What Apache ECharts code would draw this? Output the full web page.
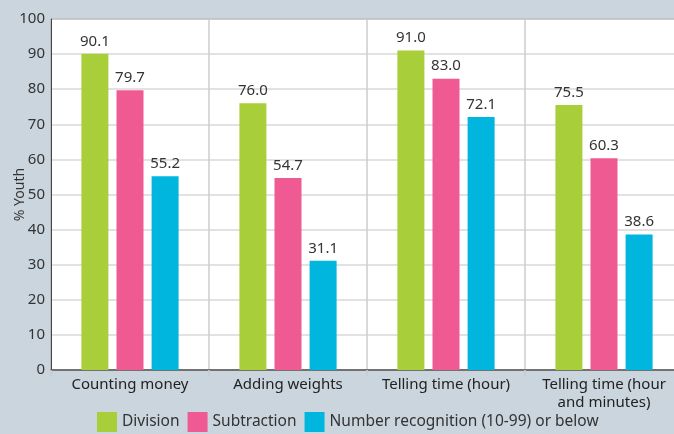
<!DOCTYPE html>
<html><head><meta charset="utf-8">
<script src="https://cdn.jsdelivr.net/npm/echarts@6/dist/echarts.min.js"></script>
<style>html,body{margin:0;padding:0;background:#cbd5de;}#c{width:674px;height:434px;}</style>
</head><body><div id="c"></div>
<script>
var categories = ['Counting money', 'Adding weights', 'Telling time (hour)', 'Telling time (hour\nand minutes)'];
var division = [90.1, 76.0, 91.0, 75.5];
var subtraction = [79.7, 54.7, 83.0, 60.3];
var numberRecognition = [55.2, 31.1, 72.1, 38.6];
var yTicks = [0, 10, 20, 30, 40, 50, 60, 70, 80, 90, 100];
var seriesNames = ['Division', 'Subtraction', 'Number recognition (10-99) or below'];
var colors = ['#a8ce3a', '#f05a93', '#00b6de'];

var font = 'Noto Sans';
var chart = echarts.init(document.getElementById('c'));
function mk(name, data, color) {
  return {
    name: name, type: 'bar', data: data, barWidth: 27, barGap: '30%',
    itemStyle: { color: color },
    label: { show: true, position: 'top', distance: 5, color: '#333', fontFamily: font, fontSize: 15,
      formatter: function (p) { return p.value.toFixed(1); } }
  };
}
chart.setOption({
  backgroundColor: '#cbd5de',
  textStyle: { fontFamily: font },
  color: colors,
  grid: { left: 51, top: 19, width: 632, height: 351, containLabel: false, outerBoundsMode: 'none',
    show: true, backgroundColor: '#fff', borderColor: '#444', borderWidth: 1 },
  legend: {
    left: 92, top: 407, itemWidth: 20, itemHeight: 20, itemGap: 8, icon: 'rect',
    textStyle: { fontFamily: font, fontSize: 15.5, color: '#333' },
    data: seriesNames
  },
  xAxis: {
    type: 'category', data: categories, boundaryGap: true,
    axisLine: { lineStyle: { color: '#555', width: 1.5 } },
    axisTick: { show: true, length: 6, lineStyle: { color: '#ccc', width: 1.5 } },
    splitLine: { show: true, lineStyle: { color: '#ccc', width: 1.5 } },
    axisLabel: { color: '#222', fontFamily: font, fontSize: 15, lineHeight: 18, margin: 6, interval: 0 }
  },
  yAxis: {
    type: 'value', min: yTicks[0], max: yTicks[yTicks.length - 1], interval: 10,
    name: '% Youth', nameLocation: 'middle', nameGap: 24, nameRotate: 90, nameMoveOverlap: false,
    nameTextStyle: { color: '#333', fontFamily: font, fontSize: 14 },
    axisLine: { show: true, lineStyle: { color: '#444', width: 1 } },
    axisTick: { show: false },
    splitLine: { lineStyle: { color: '#d9d9d9', width: 1.5 } },
    axisLabel: { color: '#333', fontFamily: font, fontSize: 15, margin: 6 }
  },
  series: [mk(seriesNames[0], division, colors[0]), mk(seriesNames[1], subtraction, colors[1]), mk(seriesNames[2], numberRecognition, colors[2])]
});
</script></body></html>
